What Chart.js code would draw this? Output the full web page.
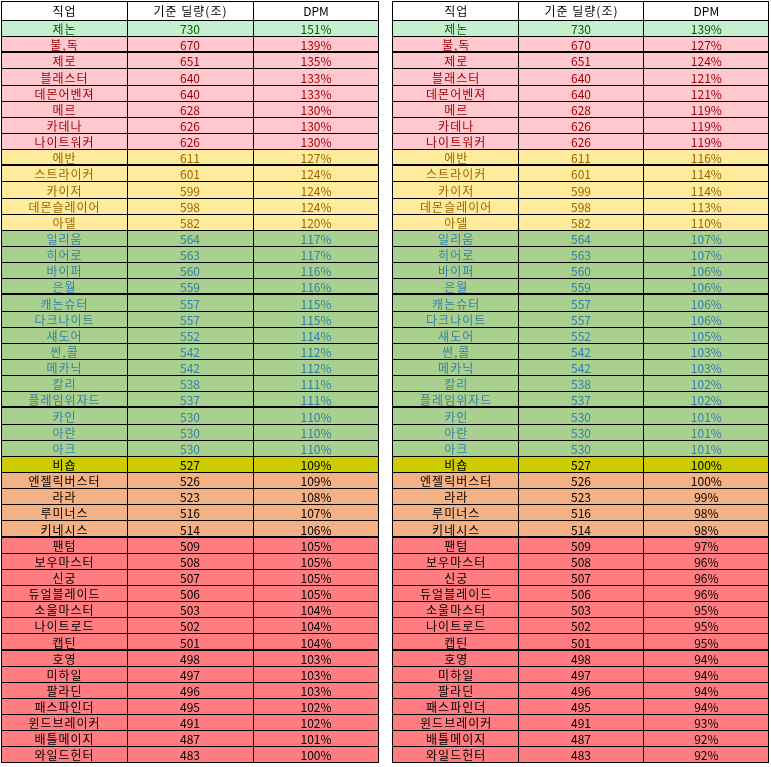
<!DOCTYPE html>
<html>
<head>
<meta charset="utf-8">
<script src="https://cdn.jsdelivr.net/npm/chart.js@4"></script>
<style>
  html, body { margin: 0; padding: 0; background: #fff; }
  canvas { position: absolute; top: 0; }
</style>
</head>
<body>
<canvas id="left" width="380" height="767" style="left:0px"></canvas>
<canvas id="right" width="379" height="767" style="left:392px"></canvas>
<script>
const COLUMNS = ["직업", "기준 딜량(조)", "DPM"];

const JOBS = [
  "제논", "불,독", "제로", "블래스터", "데몬어벤져", "메르", "카데나", "나이트워커",
  "에반", "스트라이커", "카이저", "데몬슬레이어", "아델",
  "일리움", "히어로", "바이퍼", "은월", "캐논슈터", "다크나이트", "섀도어", "썬,콜",
  "메카닉", "칼리", "플레임위자드", "카인", "아란", "아크",
  "비숍", "엔젤릭버스터", "라라", "루미너스", "키네시스",
  "팬텀", "보우마스터", "신궁", "듀얼블레이드", "소울마스터", "나이트로드", "캡틴",
  "호영", "미하일", "팔라딘", "패스파인더", "윈드브레이커", "배틀메이지", "와일드헌터",
];

const DAMAGE = [
  730, 670, 651, 640, 640, 628, 626, 626,
  611, 601, 599, 598, 582,
  564, 563, 560, 559, 557, 557, 552, 542,
  542, 538, 537, 530, 530, 530,
  527, 526, 523, 516, 514,
  509, 508, 507, 506, 503, 502, 501,
  498, 497, 496, 495, 491, 487, 483,
];

const DPM_LEFT = [
  151, 139, 135, 133, 133, 130, 130, 130,
  127, 124, 124, 124, 120,
  117, 117, 116, 116, 115, 115, 114, 112,
  112, 111, 111, 110, 110, 110,
  109, 109, 108, 107, 106,
  105, 105, 105, 105, 104, 104, 104,
  103, 103, 103, 102, 102, 101, 100,
];

const DPM_RIGHT = [
  139, 127, 124, 121, 121, 119, 119, 119,
  116, 114, 114, 113, 110,
  107, 107, 106, 106, 106, 106, 105, 103,
  103, 102, 102, 101, 101, 101,
  100, 100, 99, 98, 98,
  97, 96, 96, 96, 95, 95, 95,
  94, 94, 94, 94, 93, 92, 92,
];

// 행별 등급 (색상 구분용)
const TIERS = [
  "best", "pink", "pink", "pink", "pink", "pink", "pink", "pink",
  "yellow", "yellow", "yellow", "yellow", "yellow",
  "green", "green", "green", "green", "green", "green", "green", "green",
  "green", "green", "green", "green", "green", "green",
  "bishop", "orange", "orange", "orange", "orange",
  "red", "red", "red", "red", "red", "red", "red",
  "red", "red", "red", "red", "red", "red", "red",
];

// 굵은 구분선이 들어가는 행 (해당 행 아래)
const THICK_AFTER = [1, 8, 16, 23, 31, 38];

const TIER_STYLE = {
  header: { bg: "#ffffff", fg: "#000000" },
  best: { bg: "#c6efce", fg: "#006100" },
  pink: { bg: "#ffc7ce", fg: "#9c0006" },
  yellow: { bg: "#ffeb9c", fg: "#9c6500" },
  green: { bg: "#a9d08e", fg: "#3580a8" },
  bishop: { bg: "#cccc00", fg: "#000000" },
  orange: { bg: "#f4b183", fg: "#000000" },
  red: { bg: "#ff7c80", fg: "#000000" },
};

const HEADER_ROWS = 1.21;
const FONT = '12px "Malgun Gothic", "Noto Sans CJK KR", sans-serif';

const rowTop = (i) => (i < 0 ? 0 : HEADER_ROWS + i);
const rowBottom = (i) => (i < 0 ? HEADER_ROWS : HEADER_ROWS + i + 1);

const tablePlugin = {
  id: "tableGrid",
  afterDatasetsDraw(chart) {
    const ctx = chart.ctx;
    const x = chart.scales.x;
    const y = chart.scales.y;
    const half = (x.getPixelForValue(1) - x.getPixelForValue(0)) / 2;
    const dpm = chart.options.plugins.tableGrid.dpm;
    const left = Math.floor(x.getPixelForValue(0) - half);
    const right = Math.floor(x.getPixelForValue(2) + half) - 1;
    const top = Math.floor(y.getPixelForValue(0));
    const bottom = Math.floor(y.getPixelForValue(rowBottom(JOBS.length - 1))) - 1;

    ctx.save();
    ctx.strokeStyle = "#000";

    // 가로선
    for (let i = -1; i < JOBS.length; i++) {
      const py = i === JOBS.length - 1 ? bottom : Math.floor(y.getPixelForValue(rowBottom(i)));
      const thick = THICK_AFTER.includes(i);
      ctx.lineWidth = thick ? 2 : 1;
      ctx.beginPath();
      ctx.moveTo(left, thick ? py : py + 0.5);
      ctx.lineTo(right + 1, thick ? py : py + 0.5);
      ctx.stroke();
    }
    ctx.lineWidth = 1;
    ctx.beginPath();
    ctx.moveTo(left, top + 0.5);
    ctx.lineTo(right + 1, top + 0.5);
    ctx.stroke();

    // 세로선
    const xs = [left, Math.floor(x.getPixelForValue(0) + half), Math.floor(x.getPixelForValue(1) + half), right];
    xs.forEach((px) => {
      ctx.beginPath();
      ctx.moveTo(px + 0.5, top);
      ctx.lineTo(px + 0.5, bottom + 1);
      ctx.stroke();
    });

    // 글자
    ctx.font = FONT;
    ctx.textAlign = "center";
    ctx.textBaseline = "middle";
    for (let i = -1; i < JOBS.length; i++) {
      const style = TIER_STYLE[i < 0 ? "header" : TIERS[i]];
      const cy = (y.getPixelForValue(rowTop(i)) + y.getPixelForValue(rowBottom(i))) / 2 + 1;
      const cells = i < 0 ? COLUMNS : [JOBS[i], String(DAMAGE[i]), dpm[i] + "%"];
      ctx.fillStyle = style.fg;
      cells.forEach((text, c) => {
        // 한글은 자간을 조금 넓게
        ctx.letterSpacing = /[가-힣]/.test(text) ? "1px" : "0px";
        const shift = /[가-힣]/.test(text) ? 0.5 : 0;
        ctx.fillText(text, x.getPixelForValue(c) + shift, cy);
      });
    }
    ctx.restore();
  },
};

function makeTable(canvasId, dpm, padding) {
  const rows = [-1, ...JOBS.map((_, i) => i)];
  const datasets = rows.map((i) => ({
    label: i < 0 ? "header" : JOBS[i],
    data: COLUMNS.map(() => [rowTop(i), rowBottom(i)]),
    backgroundColor: TIER_STYLE[i < 0 ? "header" : TIERS[i]].bg,
    borderWidth: 0,
    grouped: false,
    barPercentage: 1,
    categoryPercentage: 1,
  }));

  return new Chart(document.getElementById(canvasId), {
    type: "bar",
    data: { labels: COLUMNS, datasets },
    options: {
      responsive: false,
      animation: false,
      events: [],
      layout: { padding },
      plugins: {
        legend: { display: false },
        tooltip: { enabled: false },
        tableGrid: { dpm },
      },
      scales: {
        x: { display: false, offset: true },
        y: {
          display: false,
          reverse: true,
          min: 0,
          max: rowBottom(JOBS.length - 1),
        },
      },
    },
    plugins: [tablePlugin],
  });
}

makeTable("left", DPM_LEFT, { left: 1, right: 1, top: 1, bottom: 4 });
makeTable("right", DPM_RIGHT, { left: 1, right: 2, top: 1, bottom: 4 });
</script>
</body>
</html>
